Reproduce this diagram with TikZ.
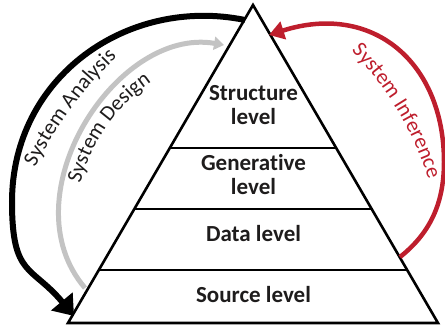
\documentclass[tikz,border=0pt]{standalone}
\usepackage{fontspec}
\setmainfont{Carlito}[Ligatures=NoCommon]
\usetikzlibrary{arrows.meta,calc,decorations.text}
\definecolor{infred}{RGB}{190,30,45}
\definecolor{desgray}{RGB}{195,195,195}
\definecolor{ink}{RGB}{30,28,28}
\newcommand\labfont{\fontsize{21.5}{24}\selectfont}
\begin{document}
\begin{tikzpicture}[x=1pt,y=1pt,
  levtext/.style={font=\fontsize{23}{24}\selectfont\bfseries, text=ink, anchor=base, inner sep=0pt},
  pyr/.style={draw=black, line width=2.6pt, line join=miter},
  analysisarrow/.style={black, line width=6pt, -{Triangle[length=19pt,width=27pt]}},
  designarrow/.style={desgray, line width=5pt, -{Triangle[length=10pt,width=13pt]}},
  inferencearrow/.style={infred, line width=4.5pt, -{Triangle[length=15pt,width=18pt]}}
]
\useasboundingbox (0,0) rectangle (445,332);

% pyramid
\coordinate (apex) at (253,327);
\coordinate (bl) at (68,9);
\coordinate (br) at (438,9);
\draw[pyr, fill=white] (bl) -- (apex) -- (br) -- cycle;
\coordinate (la) at ($(apex)!0.4497!(bl)$);
\coordinate (ra) at ($(apex)!0.4497!(br)$);
\coordinate (lb) at ($(apex)!0.6415!(bl)$);
\coordinate (rb) at ($(apex)!0.6415!(br)$);
\coordinate (lc) at ($(apex)!0.8333!(bl)$);
\coordinate (rc) at ($(apex)!0.8333!(br)$);
\draw[pyr] (la) -- (ra);
\draw[pyr] (lb) -- (rb);
\draw[pyr] (lc) -- (rc);

% level texts
\node[levtext] (struct1) at (253.5,231.3) {Structure};
\node[levtext] (struct2) at (253.5,207) {level};
\node[levtext] (gen1) at (253.5,161.3) {Generative};
\node[levtext] (gen2) at (253.5,137) {level};
\node[levtext] (data) at (253.5,90.3) {Data level};
\node[levtext] (source) at (253.5,29.7) {Source level};

% System Analysis arrow
\coordinate (an0) at (245,312);
\coordinate (an1) at (12,130);
\coordinate (an2) at (74,16);
\draw[analysisarrow] (an0) .. controls (127.4,336) and (12,255) .. (an1)
  .. controls (12,55) and (31.4,67) .. (an2);

% System Design arrow
\coordinate (ds0) at (85,44);
\coordinate (ds1) at (224,287);
\draw[designarrow] (ds0) .. controls (7,135.2) and (116.2,305.7) .. (ds1);

% System Inference arrow
\coordinate (in0) at (400,75);
\coordinate (in1) at (444,170);
\coordinate (in2) at (269,297);
\draw[inferencearrow] (in0) .. controls (427.3,96.7) and (444,125) .. (in1)
  .. controls (444,270) and (372.5,330) .. (in2);

% labels along the arcs
\coordinate (apath) at ($(392.8,-14.4)+(155:400)$);
\path[decorate, decoration={text along path, text align=center,
  text color=ink, text={|\labfont|System Analysis}}]
  (apath) arc[start angle=155, end angle=132, radius=400];
\coordinate (dpath) at ($(250,105)+(172:175)$);
\path[decorate, decoration={text along path, text align=center,
  text color=ink, text={|\labfont|System Design}}]
  (dpath) arc[start angle=172, end angle=118, radius=175];
\coordinate (ipath) at ($(114.5,51.4)+(47:330)$);
\path[decorate, decoration={text along path, text align=center,
  text color=infred, text={|\labfont|System Inference}}]
  (ipath) arc[start angle=47, end angle=15, radius=330];
\end{tikzpicture}
\end{document}
